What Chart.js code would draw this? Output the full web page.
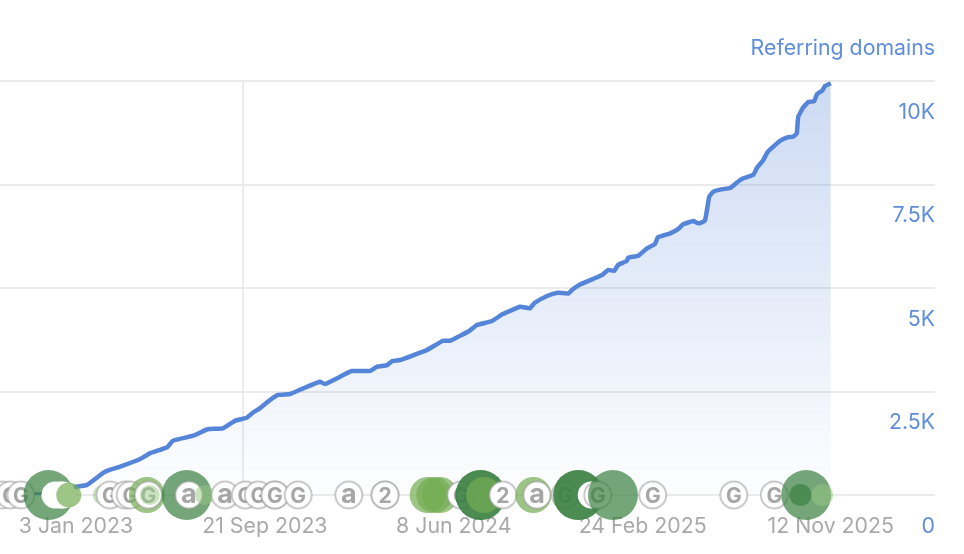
<!DOCTYPE html>
<html>
<head>
<meta charset="utf-8">
<style>html,body{margin:0;padding:0;background:#fff}canvas{display:block}</style>
<script src="https://cdn.jsdelivr.net/npm/chart.js@4"></script>
</head>
<body>
<canvas id="c" width="964" height="554"></canvas>
<script>
// Days since 3 Jan 2023 and referring-domain counts
const days = [-105,-50,-22,1,15,40,61,88,102,126,134,162,182,203,220,236,245,254,264,279,296,314,337,344,365,381,406,416,430,437,448,466,485,507,517,544,554,575,589,614,627,634,651,665,680,687,697,727,735,744,749,761,763,777,789,800,804,821,832,839,853,860,869,875,880,890,904,913,922,936,941,949,956,973,983,991,996,998,1005,1012,1020,1024,1031,1035,1043];
const domains = [10,15,85,200,240,563,684,862,1007,1152,1312,1432,1587,1611,1795,1867,1998,2094,2239,2416,2440,2577,2737,2681,2858,2995,2995,3099,3140,3237,3261,3374,3502,3727,3727,3969,4106,4203,4365,4548,4510,4645,4807,4887,4867,4976,5090,5314,5435,5418,5556,5652,5732,5780,5959,6063,6225,6321,6425,6539,6618,6563,6626,7205,7319,7377,7416,7544,7650,7737,7906,8075,8292,8558,8640,8655,8737,9138,9365,9493,9517,9686,9766,9879,9945];

// Annotation markers along the baseline, in drawing order
const eventDays  = [-102,-91,-76,-38,-29,-22,-18,-10,37,47,68,75,98,100,102,153,156,178,206,234,252,275,275,307,377,427,427,486,495,503,532,559,559,564,590,632,637,676,694,694,712,717,721,742,797,909,965,1009,1001,1031];
const eventSizes = [13.5,13.5,13.5,25,13.5,13.5,13.5,12.5,10,13.5,13.5,13.5,18,13.5,10,25,13.5,10,13.5,13.5,13.5,13.5,13.5,13.5,13.5,13.5,13.5,18,18,18,13.5,25,25,18,13.5,18,13.5,13.5,25,25,13.5,13.5,13.5,25,13.5,13.5,13.5,25,11,11];
const eventKinds = ['G','G','G','strong','blank','blank','blank','light','pale','G','G','G','light','G','pale','strong','a','pale','a','G','G','G','G','G','a','2','2','light','light','light','G','strong','strong','light','2','light','a','G','strong','strong','blank','blank','G','strong','G','G','G','strong','strong','pale'];

const xTickDays = [0,231,261,522,783,1043];
const xTickLabels = {0:'3 Jan 2023',261:'21 Sep 2023',522:'8 Jun 2024',783:'24 Feb 2025',1043:'12 Nov 2025'};
const gridDay = 231;
const yTicks = [0,2500,5000,7500,10000];
const yTickLabels = {0:'0',2500:'2.5K',5000:'5K',7500:'7.5K',10000:'10K'};
const seriesName = 'Referring domains';

const BLUE = '#5585d8';
const LABEL_BLUE = '#5f8dd9';
const fills = {strong:'rgba(58,128,66,0.7)',light:'rgba(115,172,82,0.7)',pale:'rgba(150,200,130,0.5)',blank:'#fff',G:'#fff',a:'#fff','2':'#fff'};
const isGlyph = k => k==='G'||k==='a'||k==='2';

const markerPlugin = {
  id:'markers',
  beforeDatasetDraw(chart,args){
    if(args.index!==1) return;
    const ctx=chart.ctx;
    args.meta.data.forEach((el,i)=>{
      el.draw(ctx,chart.chartArea);
      const k=eventKinds[i];
      if(isGlyph(k)){
        ctx.save();
        ctx.fillStyle='#a6a6a6';
        ctx.textAlign='center';
        ctx.textBaseline='alphabetic';
        ctx.font=k==='a'?'bold 27px Inter':'bold 21px Inter';
        ctx.fillText(k,el.x,el.y+7.5);
        ctx.restore();
      }
    });
    return false;
  }
};

new Chart(document.getElementById('c'),{
  data:{datasets:[
    {type:'line',label:seriesName,order:1,data:days.map((d,i)=>({x:d,y:domains[i]})),
     borderColor:BLUE,borderWidth:4.5,borderJoinStyle:'round',pointRadius:0,tension:0.12,
     fill:{target:{value:0}},
     backgroundColor(c){
       const a=c.chart.chartArea; if(!a) return 'transparent';
       const g=c.chart.ctx.createLinearGradient(0,a.top,0,a.bottom);
       g.addColorStop(0,'rgba(85,133,216,0.30)');
       g.addColorStop(1,'rgba(85,133,216,0.01)');
       return g;
     }},
    {type:'bubble',label:'Events',order:0,clip:false,
     data:eventDays.map((d,i)=>({x:d,y:0,r:eventSizes[i]})),
     backgroundColor:c=>fills[eventKinds[c.dataIndex]],
     borderColor:c=>isGlyph(eventKinds[c.dataIndex])?'rgba(150,150,150,0.5)':'rgba(0,0,0,0)',
     borderWidth:c=>isGlyph(eventKinds[c.dataIndex])?2:0}
  ]},
  plugins:[markerPlugin],
  options:{
    responsive:false,animation:false,events:[],
    layout:{autoPadding:false,padding:{left:0,right:29,top:0,bottom:0}},
    plugins:{
      legend:{display:false},tooltip:{enabled:false},
      title:{display:true,text:seriesName,align:'end',color:LABEL_BLUE,
        font:{family:'Inter',size:21.3,weight:'normal'},padding:{top:36,bottom:19.5}}
    },
    scales:{
      x:{type:'linear',min:-105,max:1187,position:'bottom',
        afterFit(s){s.height=59;s.paddingLeft=0;s.paddingRight=0;},
        afterBuildTicks(s){s.ticks=xTickDays.map(v=>({value:v}));},
        border:{display:false},
        grid:{drawTicks:false,lineWidth:2,color:c=>c.tick&&c.tick.value===gridDay?'#ececec':'rgba(0,0,0,0)'},
        ticks:{autoSkip:false,maxRotation:0,padding:19,color:'#a9a9a9',font:{family:'Inter',size:21.3},
          callback:v=>xTickLabels[v]||''}
      },
      y:{type:'linear',min:0,max:10000,position:'right',
        afterFit(s){s.width=0;s.paddingTop=0;s.paddingBottom=0;},
        afterBuildTicks(s){s.ticks=yTicks.map(v=>({value:v}));},
        border:{display:false},
        grid:{drawTicks:false,lineWidth:2,color:'#ebebeb'},
        ticks:{display:false}
      },
      yLabels:{type:'linear',min:761,max:10761,position:'right',
        afterFit(s){s.width=0;s.paddingTop=0;s.paddingBottom=0;},
        afterBuildTicks(s){s.ticks=yTicks.map(v=>({value:v}));},
        border:{display:false},
        grid:{display:false},
        ticks:{mirror:true,padding:0,autoSkip:false,color:LABEL_BLUE,font:{family:'Inter',size:21.3},
          callback:v=>yTickLabels[v]}
      }
    }
  }
});
</script>
</body>
</html>
